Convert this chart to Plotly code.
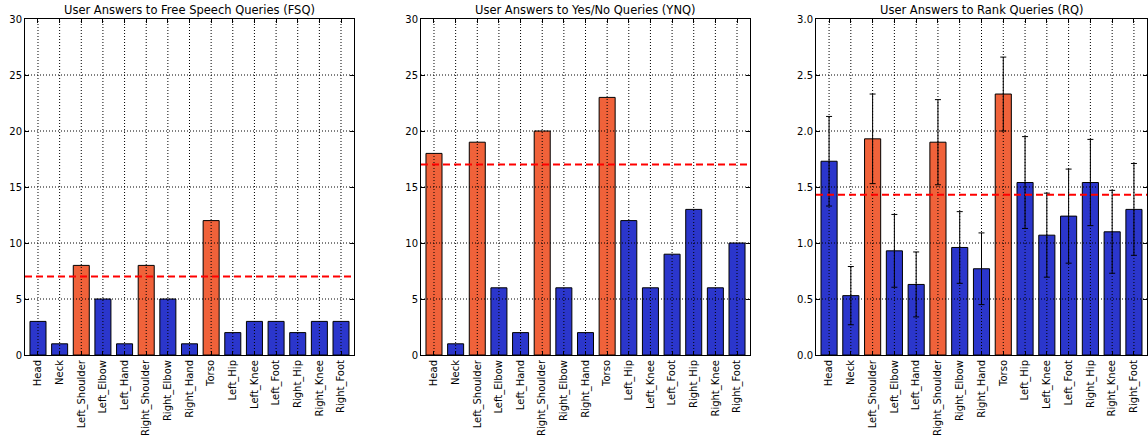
import plotly.graph_objects as go

categories = ["Head", "Neck", "Left_Shoulder", "Left_Elbow", "Left_Hand",
              "Right_Shoulder", "Right_Elbow", "Right_Hand", "Torso",
              "Left_Hip", "Left_Knee", "Left_Foot", "Right_Hip", "Right_Knee", "Right_Foot"]

fsq_values = [3, 1, 8, 5, 1, 8, 5, 1, 12, 2, 3, 3, 2, 3, 3]
ynq_values = [18, 1, 19, 6, 2, 20, 6, 2, 23, 12, 6, 9, 13, 6, 10]
rq_values = [1.73, 0.53, 1.93, 0.93, 0.63, 1.90, 0.96, 0.77, 2.33,
             1.54, 1.07, 1.24, 1.54, 1.10, 1.30]
rq_errors = [0.40, 0.26, 0.40, 0.325, 0.29, 0.38, 0.32, 0.32, 0.33,
             0.41, 0.375, 0.42, 0.385, 0.37, 0.41]

fsq_threshold = 7
ynq_threshold = 17
rq_threshold = 1.43

fsq_highlight = ["Left_Shoulder", "Right_Shoulder", "Torso"]
ynq_highlight = ["Head", "Left_Shoulder", "Right_Shoulder", "Torso"]
rq_highlight = ["Left_Shoulder", "Right_Shoulder", "Torso"]

titles = ["User Answers to Free Speech Queries (FSQ)",
          "User Answers to Yes/No Queries (YNQ)",
          "User Answers to Rank Queries (RQ)"]
y_max = [30, 30, 3.0]
y_step = [5, 5, 0.5]

BLUE = "#2b36cc"
ORANGE = "#f0623a"
W, H = 1148, 446
domains = [[25 / W, 354 / W], [421 / W, 750 / W], [816 / W, 1147 / W]]

panels = [
    (fsq_values, None, fsq_threshold, fsq_highlight),
    (ynq_values, None, ynq_threshold, ynq_highlight),
    (rq_values, rq_errors, rq_threshold, rq_highlight),
]

fig = go.Figure()
idx = list(range(len(categories)))
font = "DejaVu Sans, Liberation Sans, sans-serif"

for i, (vals, errs, thr, hl) in enumerate(panels):
    n = "" if i == 0 else str(i + 1)
    xa, ya = "x" + n, "y" + n
    colors = [ORANGE if c in hl else BLUE for c in categories]
    bar = dict(
        x=idx, y=vals, width=0.74, xaxis=xa, yaxis=ya,
        marker=dict(color=colors, line=dict(color="black", width=1)),
        showlegend=False, hoverinfo="skip",
    )
    if errs is not None:
        bar["error_y"] = dict(type="data", array=errs, visible=True,
                              color="black", thickness=1, width=3)
    fig.add_trace(go.Bar(**bar))

    axis_common = dict(showline=True, linecolor="black", linewidth=1, mirror="ticks",
                       ticks="inside", ticklen=4, tickcolor="black", showgrid=False,
                       zeroline=False, automargin=False,
                       tickfont=dict(family=font, size=10, color="black"))
    fig.layout["xaxis" + n] = dict(
        domain=domains[i], anchor=ya, range=[-0.6, len(categories) - 0.4],
        tickmode="array", tickvals=idx, ticktext=categories, tickangle=-90,
        **axis_common)
    nt = int(round(y_max[i] / y_step[i]))
    yt = [round(k * y_step[i], 3) for k in range(nt + 1)]
    fig.layout["yaxis" + n] = dict(
        domain=[0, 1], anchor=xa, range=[0, y_max[i]], tickmode="array",
        tickvals=yt, ticktext=[(f"{v:.1f}" if i == 2 else f"{int(v)}") for v in yt],
        **axis_common)

    # dotted grid above bars
    for k in idx:
        fig.add_shape(type="line", xref=xa, yref=ya + " domain", x0=k, x1=k, y0=0, y1=1,
                      line=dict(color="black", width=1, dash="1px,2px"), layer="above")
    for v in yt[1:-1]:
        fig.add_shape(type="line", xref=xa + " domain", yref=ya, x0=0, x1=1, y0=v, y1=v,
                      line=dict(color="black", width=1, dash="1px,2px"), layer="above")
    # threshold line
    fig.add_shape(type="line", xref=xa + " domain", yref=ya, x0=0, x1=1, y0=thr, y1=thr,
                  line=dict(color="#ff0000", width=2, dash="7px,4px"), layer="above")

    fig.add_annotation(text=titles[i], xref="paper", yref="paper",
                       x=(domains[i][0] + domains[i][1]) / 2, y=1,
                       xanchor="center", yanchor="bottom",
                       yshift=0, showarrow=False,
                       font=dict(family=font, size=11.5, color="black"))

fig.update_layout(
    template="none",
    width=W, height=H, margin=dict(l=0, r=0, t=19, b=91, autoexpand=False),
    paper_bgcolor="white", plot_bgcolor="white",
    font=dict(family=font, color="black"), bargap=0,
)

fig.write_html("out.html", config={"displayModeBar": False, "staticPlot": True},
               post_script="document.body.style.margin='0';document.body.style.overflow='hidden';")
